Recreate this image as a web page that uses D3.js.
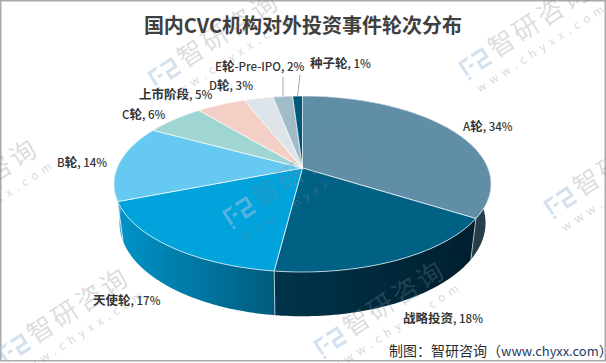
<!DOCTYPE html>
<html>
<head>
<meta charset="utf-8">
<script src="https://cdn.jsdelivr.net/npm/d3@7"></script>
<style>
  html, body { margin: 0; padding: 0; background: #fff; }
  svg { display: block; }
  text { font-family: "Noto Sans CJK SC", "Noto Sans", sans-serif; }
</style>
</head>
<body>
<div id="container"></div>
<script>
const categories = ['A轮', '战略投资', '天使轮', 'B轮', 'C轮', '上市阶段', 'D轮', 'E轮-Pre-IPO', '种子轮'];
const shares = [34, 18, 17, 14, 6, 5, 3, 2, 1];
const topColours = ['#5f8ea6', '#006184', '#00a3db', '#66c9f2', '#9fd6d3', '#f4cfc5', '#dde5ea', '#a0bcc9', '#00587a'];
const wallColours = [
  ['#263d4a', '#263d4a'], ['#00344a', '#001f2e'], ['#0094c8', '#005b7e'], ['#4fa6cc', '#4fa6cc'],
  ['#80b0ad', '#80b0ad'], ['#c9aaa2', '#c9aaa2'], ['#b5bcc0', '#b5bcc0'], ['#8299a4', '#8299a4'], ['#004763', '#004763']
];
const titleText = '国内CVC机构对外投资事件轮次分布';
const footerLead = '制图：智研咨询（';
const footerSite = 'www.chyxx.com';
const footerTail = '）';

const width = 606;
const height = 363;

// where each label starts and its vertical middle
const labelSpots = [[463, 127], [403, 319], [93, 301], [57, 163], [122, 115], [139, 95], [209, 86], [215, 67], [310, 64]];
const leaders = [[7, 283, 77, 283, 96], [8, 300, 75, 297.5, 96]];

const svg = d3.select('#container').append('svg')
  .attr('width', width)
  .attr('height', height)
  .attr('viewBox', `0 0 ${width} ${height}`);

// excel style 3d pie: the rim goes through a perspective, so the apex is not the ellipse centre
const topDisc = { x: 302.5, y: 168, a: 185.4, b: 85.1, k: 0.1818 };
const lowDisc = { x: 302.5, y: 206, a: 180, b: 90.2, k: 0.1818 };

let project = (angle, disc) => {
  const u = Math.sin(angle);
  const v = -Math.cos(angle);
  const w = 1 - disc.k * v;
  return [disc.x + disc.a * u / w, disc.y + disc.b * v / w];
};

let rim = (d, disc) => {
  const steps = d3.range(d.startAngle, d.endAngle, 0.02).concat([d.endAngle]);
  return steps.map(t => project(t, disc));
};

const slices = d3.pie().sort(null).value(d => d)(shares);
const line = d3.line();

const defs = svg.append('defs');
slices.forEach((d, i) => {
  const xs = rim(d, lowDisc).map(p => p[0]).concat(rim(d, topDisc).map(p => p[0]));
  const grad = defs.append('linearGradient')
    .attr('id', `wall${i}`)
    .attr('gradientUnits', 'userSpaceOnUse')
    .attr('x1', d3.min(xs)).attr('x2', d3.max(xs))
    .attr('y1', 0).attr('y2', 0);
  grad.append('stop').attr('offset', 0).attr('stop-color', wallColours[i][0]);
  grad.append('stop').attr('offset', 1).attr('stop-color', wallColours[i][1]);
});

svg.append('rect')
  .attr('x', 0.75).attr('y', 0.75)
  .attr('width', width - 1.5).attr('height', height - 3)
  .attr('fill', '#fff')
  .attr('stroke', '#a9a9a9')
  .attr('stroke-width', 1.5);

// walls first, the top covers the hidden back half
svg.append('g')
  .selectAll('path')
  .data(slices)
  .enter()
  .append('path')
  .attr('d', d => line(rim(d, topDisc).concat(rim(d, lowDisc).reverse())) + 'Z')
  .attr('fill', (d, i) => `url(#wall${i})`);

svg.append('g')
  .selectAll('line')
  .data(slices.filter(d => d.endAngle > Math.PI / 2 && d.endAngle < Math.PI * 1.45))
  .enter()
  .append('line')
  .attr('x1', d => project(d.endAngle, topDisc)[0])
  .attr('y1', d => project(d.endAngle, topDisc)[1])
  .attr('x2', d => project(d.endAngle, lowDisc)[0])
  .attr('y2', d => project(d.endAngle, lowDisc)[1])
  .attr('stroke', '#fff')
  .attr('stroke-opacity', 0.6);

svg.append('g')
  .selectAll('path')
  .data(slices)
  .enter()
  .append('path')
  .attr('d', d => line([[topDisc.x, topDisc.y]].concat(rim(d, topDisc))) + 'Z')
  .attr('fill', (d, i) => topColours[i])
  .attr('stroke', '#fff')
  .attr('stroke-opacity', 0.75)
  .attr('stroke-width', 0.9)
  .attr('stroke-linejoin', 'round');

// watermark sits on top of the pie
const wmMarks = [[165, 73], [476, 63], [-76, 220], [240, 212], [561, 202], [15, 349], [331, 342]];
const wm = svg.append('g')
  .selectAll('g')
  .data(wmMarks)
  .enter()
  .append('g')
  .attr('transform', d => `translate(${d[0]},${d[1]}) rotate(-33)`);

wm.append('path')
  .attr('d', 'M-15 -10H-3L-6 -7H-12V6H-15ZM-15 8H-12V11H-15ZM0 -10H14V2H4V6H14V9H1V-1H11V-7H0ZM-8 -2H-3V1H-8Z')
  .attr('fill', '#a9c6e2')
  .attr('fill-opacity', 0.5);

wm.append('text')
  .attr('x', 19)
  .attr('y', 7)
  .attr('font-size', 26)
  .attr('letter-spacing', 3)
  .attr('fill', '#7f8a94')
  .attr('fill-opacity', 0.3)
  .text('智研咨询');

wm.append('text')
  .attr('x', -13)
  .attr('y', 27)
  .attr('font-size', 11.5)
  .attr('letter-spacing', 5.2)
  .attr('fill', '#7f8a94')
  .attr('fill-opacity', 0.35)
  .text('www.chyxx.com');

svg.append('g')
  .selectAll('line')
  .data(leaders)
  .enter()
  .append('line')
  .attr('x1', d => d[1]).attr('y1', d => d[2])
  .attr('x2', d => d[3]).attr('y2', d => d[4])
  .attr('stroke', '#a6a6a6')
  .attr('stroke-width', 1);

// chinese runs are heavier and wider than the latin ones in the original
let runs = (s) => s.match(/[\u4e00-\u9fff]+|[^\u4e00-\u9fff]+/g);

const labels = svg.append('g')
  .selectAll('text')
  .data(categories)
  .enter()
  .append('text')
  .attr('x', (d, i) => labelSpots[i][0])
  .attr('y', (d, i) => labelSpots[i][1] + 4)
  .attr('fill', '#333');

labels.selectAll('tspan')
  .data((d, i) => runs(`${d}, ${shares[i]}%`))
  .enter()
  .append('tspan')
  .attr('font-size', s => /[\u4e00-\u9fff]/.test(s) ? 12.5 : 11.5)
  .attr('font-weight', s => /[\u4e00-\u9fff]/.test(s) ? 700 : 500)
  .text(s => s);

svg.append('text')
  .attr('x', 303)
  .attr('y', 33)
  .attr('text-anchor', 'middle')
  .attr('font-size', 20)
  .attr('font-weight', 700)
  .attr('fill', '#404040')
  .text(titleText);

const footer = svg.append('text')
  .attr('x', 389)
  .attr('y', 356)
  .attr('font-size', 14)
  .attr('fill', '#2b2b2b');
footer.append('tspan').text(footerLead);
footer.append('tspan').attr('font-size', 13).attr('fill', '#1f3a5f').text(footerSite);
footer.append('tspan').text(footerTail);
</script>
</body>
</html>
